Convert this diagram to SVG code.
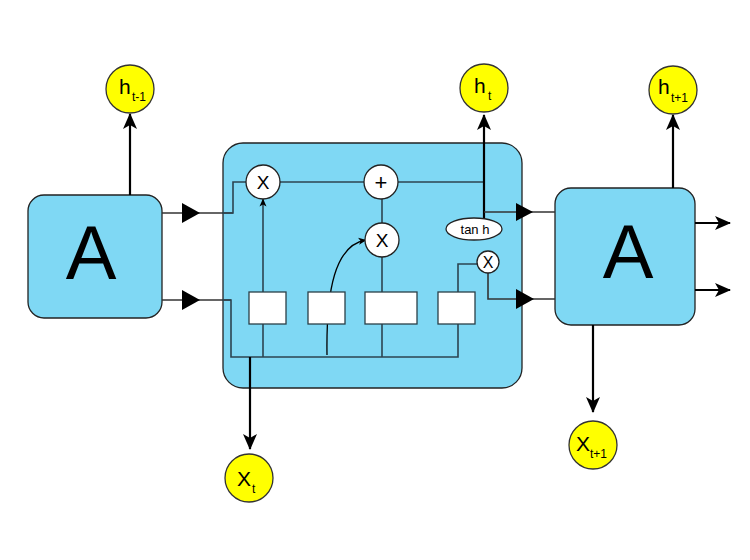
<svg xmlns="http://www.w3.org/2000/svg" width="750" height="560" viewBox="0 0 750 560">
<style>
.box{fill:#7fd8f4;stroke:#222;stroke-width:1.3}
.io{fill:#ffff00;stroke:#333;stroke-width:1.3}
.op{fill:#fff;stroke:#222;stroke-width:1.3}
.gate{fill:#fff;stroke:#2a3f48;stroke-width:1.3}
.ln{fill:none;stroke:#2c4450;stroke-width:1.6}
.lo{fill:none;stroke:#333;stroke-width:1.6}
.thick{fill:none;stroke:#000;stroke-width:2.2}
.tri{fill:#000}
text{font-family:"Liberation Sans",Arial,sans-serif;fill:#000}
.big{font-size:76px}
.lab{font-size:21px}
.sub{font-size:12px}
.sym{font-size:19px}
</style>
<defs>
<marker id="arr" markerUnits="userSpaceOnUse" viewBox="0 0 16 16" markerWidth="16" markerHeight="16" refX="15" refY="8" orient="auto">
<path d="M0,1 L16,8 L0,15 L4,8 z" fill="#000"/>
</marker>
<marker id="sarr" markerUnits="userSpaceOnUse" viewBox="0 0 8 8" markerWidth="8" markerHeight="8" refX="7.5" refY="4" orient="auto">
<path d="M0,0.5 L8,4 L0,7.5 L2,4 z" fill="#000"/>
</marker>
</defs>
<rect width="750" height="560" fill="#fff"/>

<g id="cell">
<rect class="box" x="223" y="143" width="299" height="245" rx="20"/>
</g>
<g id="A_left">
<rect class="box" x="28" y="195" width="134" height="123" rx="16"/>
<text class="big" x="91" y="279" text-anchor="middle">A</text>
</g>
<g id="A_right">
<rect class="box" x="555" y="188" width="140" height="137" rx="16"/>
<text class="big" x="628" y="278" text-anchor="middle">A</text>
</g>

<g id="connectors">
<polyline class="lo" points="162,213 233,213"/>
<polyline class="ln" points="222,213 233,213 233,182 246,182"/>
<polygon class="tri" points="182,203 200,213 182,223"/>
<polyline class="lo" points="162,300 231,300"/>
<polyline class="ln" points="222,300 231,300 231,357 458,357 458,264 477,264"/>
<polygon class="tri" points="182,290 200,300 182,310"/>
<line class="ln" x1="280" y1="182" x2="364" y2="182"/>
<line class="ln" x1="398" y1="182" x2="484" y2="182"/>
<line class="ln" x1="263" y1="357" x2="263" y2="199" marker-end="url(#sarr)"/>
<line class="ln" x1="382" y1="357" x2="382" y2="257"/>
<line class="ln" x1="382" y1="223" x2="382" y2="199"/>
<path d="M327,355 C326,290 335,245 366,240" fill="none" stroke="#000" stroke-width="1.3" marker-end="url(#sarr)"/>
<line class="thick" x1="484" y1="218" x2="484" y2="115" marker-end="url(#arr)"/>
<polyline class="lo" points="484,212 555,212"/>
<polygon class="tri" points="516,203 533,212 516,221"/>
<polyline class="lo" points="488,273 488,299 555,299"/>
<polygon class="tri" points="516,289 534,299 516,309"/>
<line class="thick" x1="250" y1="357" x2="250" y2="449" marker-end="url(#arr)"/>
<line class="thick" x1="130" y1="195" x2="130" y2="114" marker-end="url(#arr)"/>
<line class="thick" x1="673" y1="188" x2="673" y2="115" marker-end="url(#arr)"/>
<line class="thick" x1="593" y1="325" x2="593" y2="412" marker-end="url(#arr)"/>
<line class="thick" x1="695" y1="223" x2="730" y2="223" marker-end="url(#arr)"/>
<line class="thick" x1="695" y1="290" x2="730" y2="290" marker-end="url(#arr)"/>
</g>

<g id="gate1"><rect class="gate" x="249" y="292" width="37" height="32"/></g>
<g id="gate2"><rect class="gate" x="308" y="292" width="37" height="32"/></g>
<g id="gate3"><rect class="gate" x="365" y="292" width="52" height="32"/></g>
<g id="gate4"><rect class="gate" x="438" y="292" width="37" height="32"/></g>

<g id="mul_forget">
<circle class="op" cx="263" cy="182" r="17"/>
<text class="sym" x="263" y="189" text-anchor="middle">X</text>
</g>
<g id="add">
<circle class="op" cx="381" cy="182" r="17"/>
<text x="381" y="189.5" font-size="22" text-anchor="middle">+</text>
</g>
<g id="mul_input">
<circle class="op" cx="382" cy="240" r="17"/>
<text class="sym" x="382" y="247" text-anchor="middle">X</text>
</g>
<g id="tanh">
<ellipse class="op" cx="474" cy="229" rx="28" ry="11"/>
<text x="475" y="233.5" font-size="13" text-anchor="middle">tan h</text>
</g>
<g id="mul_output">
<circle class="op" cx="488" cy="262" r="11"/>
<text x="488" y="268" font-size="16" text-anchor="middle">X</text>
</g>

<g id="h_prev">
<circle class="io" cx="130" cy="89" r="24"/>
<text class="lab" x="119" y="94">h</text><text class="sub" x="132" y="101">t-1</text>
</g>
<g id="h_t">
<circle class="io" cx="484" cy="88" r="24"/>
<text class="lab" x="474" y="93">h</text><text class="sub" x="488" y="100">t</text>
</g>
<g id="h_next">
<circle class="io" cx="673" cy="90" r="24"/>
<text class="lab" x="658" y="94">h</text><text class="sub" x="671" y="102">t+1</text>
</g>
<g id="x_t">
<circle class="io" cx="249" cy="478" r="24"/>
<text class="lab" x="237" y="486">X</text><text class="sub" x="252" y="493">t</text>
</g>
<g id="x_next">
<circle class="io" cx="593" cy="445" r="24"/>
<text class="lab" x="576" y="451">X</text><text class="sub" x="590" y="458">t+1</text>
</g>
</svg>
